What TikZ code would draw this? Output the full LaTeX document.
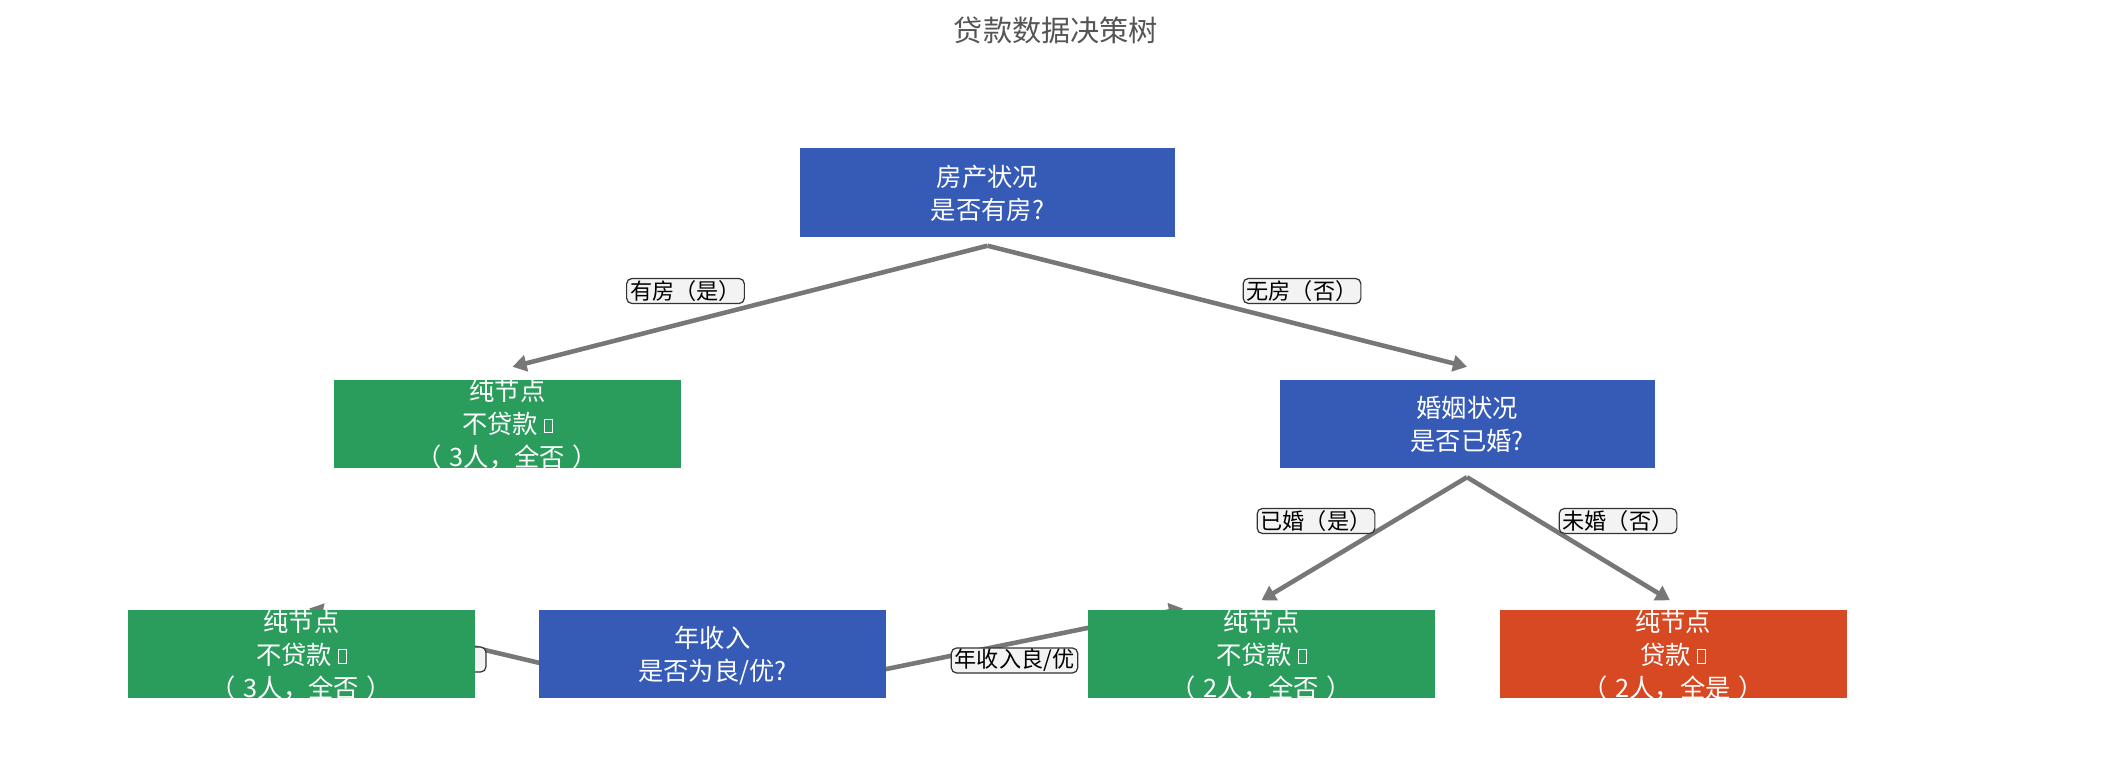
\documentclass[tikz,border=0pt]{standalone}
\usepackage{fontspec}
\setmainfont{Noto Sans CJK SC}
\usepackage{tikz}
\usetikzlibrary{arrows.meta,backgrounds}
\definecolor{dtblue}{RGB}{54,91,183}
\definecolor{dtgreen}{RGB}{42,157,92}
\definecolor{dtred}{RGB}{214,73,34}
\definecolor{dtgray}{RGB}{119,119,119}
\definecolor{dtlabel}{RGB}{243,243,243}
\definecolor{dttitle}{RGB}{85,85,85}
\tikzstyle{box} = [rectangle, inner sep=0pt, minimum width=3.47cm, minimum height=0.88cm, text=white, font=\fontsize{7.2}{9.4}\selectfont]
\tikzstyle{decision} = [box, fill=dtblue]
\tikzstyle{leafno} = [box, fill=dtgreen]
\tikzstyle{leafyes} = [box, fill=dtred]
\tikzstyle{branch} = [line width=1.3pt, -{Triangle[length=4pt,width=4.6pt]}, color=dtgray]
\tikzstyle{edgelabel} = [rectangle, draw=black!80, line width=0.35pt, rounded corners=1.5pt, fill=dtlabel, inner xsep=1pt, inner ysep=0pt, minimum height=0.25cm, font=\fontsize{6.3}{7}\selectfont]
\newcommand{\tofu}{\raisebox{0.4pt}{\fboxsep=0pt\fboxrule=0.3pt\fbox{\rule{0pt}{3.6pt}\hspace{2pt}}}}
\newcommand{\boxtext}[1]{\smash{\raisebox{-2.8pt}{\begin{tabular}{@{}c@{}}#1\end{tabular}}}}
\newcommand{\paren}[1]{（\kern0.3em#1\kern0.3em）}

\begin{document}
\begin{tikzpicture}
    \useasboundingbox (0,0) rectangle (21.12,-7.68);

    % Title
    \node[font=\fontsize{8.3}{10}\selectfont, text=dttitle] (title) at (10.56,-0.30) {贷款数据决策树};

    % Root question
    \node[decision, minimum width=3.75cm, minimum height=0.89cm] (house) at (9.875,-1.925) {\boxtext{房产状况\\是否有房?}};

    % First level
    \node[leafno] (pure1) at (5.075,-4.235) {\boxtext{纯节点\\不贷款 \tofu\\\paren{3人，全否}}};
    \node[decision, minimum width=3.75cm] (married) at (14.67,-4.235) {\boxtext{婚姻状况\\是否已婚?}};

    % Second level
    \node[leafno] (pure2) at (3.015,-6.54) {\boxtext{纯节点\\不贷款 \tofu\\\paren{3人，全否}}};
    \node[decision] (income) at (7.125,-6.54) {\boxtext{年收入\\是否为良/优?}};
    \node[leafno] (pure3) at (12.615,-6.54) {\boxtext{纯节点\\不贷款 \tofu\\\paren{2人，全否}}};
    \node[leafyes] (loan) at (16.73,-6.54) {\boxtext{纯节点\\贷款 \tofu\\\paren{2人，全是}}};

    \begin{scope}[on background layer]
        % Branches
        \draw[branch] ([yshift=-0.08cm]house.south) -- ([xshift=0.05cm,yshift=0.12cm]pure1.north);
        \draw[branch] ([yshift=-0.08cm]house.south) -- ([yshift=0.12cm]married.north);
        \draw[branch] ([yshift=-0.09cm]married.south) -- ([yshift=0.09cm]pure3.north);
        \draw[branch] ([yshift=-0.09cm]married.south) -- ([xshift=-0.03cm,yshift=0.09cm]loan.north);

        % income branches, mostly behind the boxes
        \coordinate (tipl) at (3.09,-6.085);
        \coordinate (tipr) at (11.83,-6.085);
        \draw[branch] ([xshift=0.1cm,yshift=-0.11cm]income.west) -- (tipl);
        \draw[branch] ([xshift=-0.1cm,yshift=-0.17cm]income.east) -- (tipr);

        % Branch labels
        \node[edgelabel] (yeshouse) at (6.855,-2.91) {有房（是）};
        \node[edgelabel] (nohouse) at (13.02,-2.91) {无房（否）};
        \node[edgelabel] (yesmarried) at (13.16,-5.21) {已婚（是）};
        \node[edgelabel] (nomarried) at (16.18,-5.21) {未婚（否）};
        \node[edgelabel, minimum width=1cm] (lowincome) at (4.36,-6.595) {};
        \node[edgelabel] (highincome) at (10.145,-6.605) {年收入良/优};
    \end{scope}
\end{tikzpicture}
\end{document}
